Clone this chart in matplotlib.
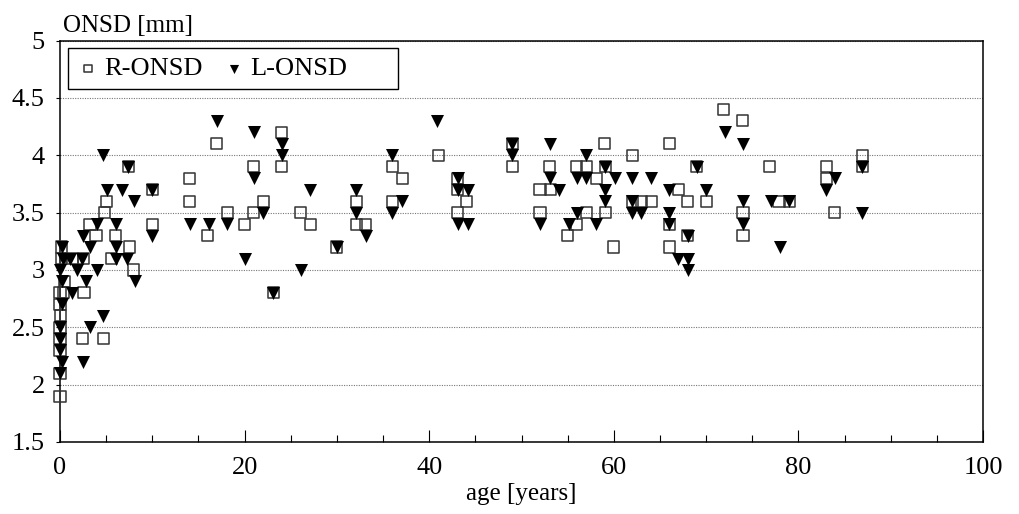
import matplotlib
matplotlib.use("Agg")
import matplotlib.pyplot as plt
from matplotlib.patches import Rectangle
from matplotlib.ticker import MultipleLocator

plt.rcParams['font.family'] = ['Liberation Serif', 'DejaVu Serif']

# R-ONSD (open squares)
r_age = [0.2, 0.2, 1.3, 2.5, 0.5, 0.0, 0.4, 2.6, 0.0, 0.1, 0.0, 0.0, 0.0, 0.0, 0.0,
         2.4, 4.7, 3.9, 3.25, 4.8, 5.0, 6.0, 5.6, 7.5, 7.4, 8.0, 10.0, 10.0,
         14.0, 14.0, 16.0, 17.0, 18.1, 20.0, 21.0, 21.0, 22.0, 23.1, 24.0, 24.0,
         26.1, 27.1, 30.0, 32.1, 32.1, 33.1, 36.0, 36.0, 37.1, 41.0, 43.1, 43.1,
         43.1, 44.0, 49.0, 49.0, 52.0, 52.0, 53.0, 53.1, 55.0, 56.0, 56.0, 57.0,
         57.0, 58.1, 59.0, 59.1, 59.1, 60.0, 62.0, 62.0, 63.0, 64.1, 66.0, 66.0,
         66.0, 67.0, 68.0, 68.0, 69.0, 70.0, 71.9, 73.9, 74.0, 74.0, 76.9, 77.9,
         79.0, 83.0, 83.0, 83.9, 86.9, 86.9]
r_onsd = [3.2, 3.1, 3.1, 3.1, 2.9, 2.8, 2.8, 2.8, 2.7, 2.6, 2.5, 2.4, 2.3, 2.1, 1.9,
          2.4, 2.4, 3.3, 3.4, 3.5, 3.6, 3.3, 3.1, 3.2, 3.9, 3.0, 3.4, 3.7,
          3.8, 3.6, 3.3, 4.1, 3.5, 3.4, 3.5, 3.9, 3.6, 2.8, 4.2, 3.9,
          3.5, 3.4, 3.2, 3.6, 3.4, 3.4, 3.9, 3.6, 3.8, 4.0, 3.8, 3.7,
          3.5, 3.6, 4.1, 3.9, 3.7, 3.5, 3.9, 3.7, 3.3, 3.9, 3.4, 3.9,
          3.5, 3.8, 4.1, 3.9, 3.5, 3.2, 4.0, 3.6, 3.6, 3.6, 4.1, 3.4,
          3.2, 3.7, 3.6, 3.3, 3.9, 3.6, 4.4, 4.3, 3.5, 3.3, 3.9, 3.6,
          3.6, 3.9, 3.8, 3.5, 4.0, 3.9]

# L-ONSD (filled triangles)
l_age = [0.25, 0.3, 1.1, 2.35, 0.0, 1.8, 4.0, 0.2, 2.8, 1.26, 0.2, 4.7, 0.0, 3.25,
         0.0, 0.0, 0.2, 2.5, 0.0,
         2.5, 3.25, 4.0, 6.1, 6.1, 6.1, 7.3, 4.7, 7.4, 5.05, 6.7, 8.05, 8.1,
         10.0, 10.0, 14.1, 16.1, 17.0, 18.1, 20.0, 21.0, 21.0, 22.0, 23.1,
         24.0, 24.0, 26.1, 27.1, 30.0, 32.1, 32.1, 33.1, 36.0, 36.0, 37.1,
         40.8, 43.1, 43.1, 44.2, 43.1, 44.2, 49.0, 49.0, 53.1, 53.1, 54.1,
         52.0, 57.0, 56.0, 57.0, 59.1, 60.1, 59.1, 59.1, 56.0, 55.1, 58.1,
         62.0, 64.0, 62.0, 62.0, 63.0, 66.0, 66.0, 66.0, 67.0, 68.0, 68.0,
         68.0, 69.0, 70.0, 72.0, 74.0, 74.0, 74.0, 77.0, 78.0, 79.0, 83.0,
         84.0, 86.9, 86.9]
l_onsd = [3.2, 3.1, 3.1, 3.1, 3.0, 3.0, 3.0, 2.9, 2.9, 2.8, 2.7, 2.6, 2.5, 2.5,
          2.4, 2.3, 2.2, 2.2, 2.1,
          3.3, 3.2, 3.4, 3.4, 3.2, 3.1, 3.1, 4.0, 3.9, 3.7, 3.7, 3.6, 2.9,
          3.7, 3.3, 3.4, 3.4, 4.3, 3.4, 3.1, 4.2, 3.8, 3.5, 2.8,
          4.1, 4.0, 3.0, 3.7, 3.2, 3.7, 3.5, 3.3, 4.0, 3.5, 3.6,
          4.3, 3.8, 3.7, 3.7, 3.4, 3.4, 4.1, 4.0, 4.1, 3.8, 3.7,
          3.4, 4.0, 3.8, 3.8, 3.9, 3.8, 3.7, 3.6, 3.5, 3.4, 3.4,
          3.8, 3.8, 3.6, 3.5, 3.5, 3.7, 3.5, 3.4, 3.1, 3.1, 3.0,
          3.3, 3.9, 3.7, 4.2, 4.1, 3.6, 3.4, 3.6, 3.2, 3.6, 3.7,
          3.8, 3.9, 3.5]

fig = plt.figure(figsize=(10.19, 5.14), dpi=100)
ax = fig.add_axes([60 / 1019, 1 - 442 / 514, 923 / 1019, 401.4 / 514])

ax.scatter(r_age, r_onsd, marker='s', s=64, facecolors='none',
           edgecolors='#333333', linewidths=1.1, clip_on=False, zorder=3,
           label='R-ONSD')
ax.scatter(l_age, l_onsd, marker='v', s=88, color='black', linewidths=0,
           clip_on=False, zorder=4, label='L-ONSD')

ax.set_xlim(0, 100)
ax.set_ylim(1.5, 5)
ax.xaxis.set_major_locator(MultipleLocator(20))
ax.xaxis.set_minor_locator(MultipleLocator(5))
ax.set_yticks([1.5, 2, 2.5, 3, 3.5, 4, 4.5, 5])
ax.set_yticklabels(['1.5', '2', '2.5', '3', '3.5', '4', '4.5', '5'])

ax.tick_params(axis='x', which='major', direction='in', length=9, width=0.8,
               pad=11, labelsize=19)
ax.tick_params(axis='x', which='minor', direction='in', length=5, width=0.8)
ax.tick_params(axis='y', direction='out', length=3, width=0.8, pad=8,
               labelsize=19)

for sp in ax.spines.values():
    sp.set_linewidth(1.1)
    sp.set_color('black')

ax.yaxis.grid(True, color='#777777', linestyle=(0, (1, 1.2)), linewidth=0.8)
ax.set_axisbelow(True)

# legend box
ax.add_patch(Rectangle((8.3 / 923, 1 - 48.7 / 401.4), 330 / 923, 41 / 401.4,
                       transform=ax.transAxes, facecolor='white',
                       edgecolor='black', linewidth=1.0, zorder=5))
leg = ax.legend(loc='center left', bbox_to_anchor=(0.0249, 0.930), ncol=2,
                frameon=False, fontsize=19, handlelength=0.4,
                handletextpad=0.4, columnspacing=1.0, borderpad=0,
                borderaxespad=0, markerscale=0.7)
leg.set_zorder(6)

fig.text(63 / 1019, 1 - 32 / 514, 'ONSD [mm]', fontsize=18, va='baseline',
         ha='left')
fig.text(521 / 1019, 1 - 500 / 514, 'age [years]', fontsize=18,
         va='baseline', ha='center')

fig.savefig('out.png', dpi=100)
